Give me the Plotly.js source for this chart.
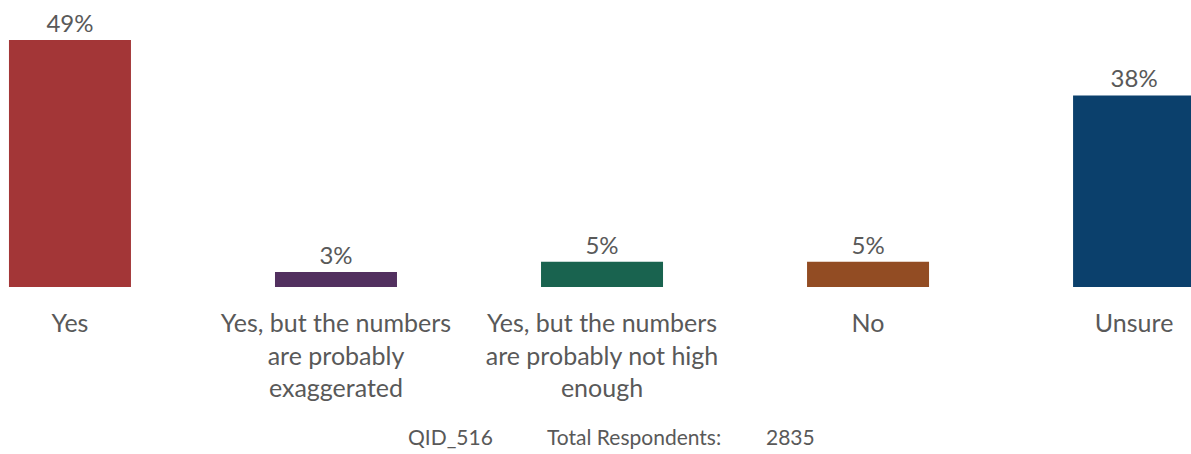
<!DOCTYPE html>
<html>
<head>
<meta charset="utf-8">
<script src="https://cdn.plot.ly/plotly-3.0.1.min.js"></script>
<style>html,body{margin:0;padding:0;background:#fff;}#chart{width:1191px;height:454px;}</style>
</head>
<body>
<div id="chart"></div>
<script>
var categories = ["Yes", "Yes, but the numbers<br>are probably<br>exaggerated", "Yes, but the numbers<br>are probably not high<br>enough", "No", "Unsure"];
var values = [49, 3, 5, 5, 38];
var valueLabels = ["49%", "3%", "5%", "5%", "38%"];
var barColors = ["#A33637", "#52305F", "#19634F", "#924C23", "#0B406C"];
var footerQid = "QID_516";
var footerLabel = "Total Respondents:";
var footerTotal = "2835";

var textGray = "#595959";
var fontFam = "Lato, 'Open Sans', sans-serif";

var trace = {
  type: "bar",
  x: [0, 1, 2, 3, 4],
  y: values,
  width: 0.4586,
  marker: {color: barColors, line: {width: 0}},
  text: valueLabels,
  textposition: "outside",
  textfont: {family: fontFam, size: 24, color: textGray},
  cliponaxis: false,
  hoverinfo: "skip"
};

var layout = {
  width: 1191,
  height: 454,
  margin: {l: 0, r: 0, t: 0, b: 167, pad: 0},
  paper_bgcolor: "#ffffff",
  plot_bgcolor: "#ffffff",
  showlegend: false,
  font: {family: fontFam, color: textGray},
  xaxis: {
    range: [-0.263, 4.214],
    tickmode: "array",
    tickvals: [0, 1, 2, 3, 4],
    ticktext: categories,
    tickfont: {family: fontFam, size: 25, color: textGray},
    ticks: "",
    ticklabelstandoff: 19,
    showgrid: false,
    zeroline: false,
    showline: false,
    fixedrange: true
  },
  yaxis: {
    range: [0, 56.93],
    visible: false,
    showgrid: false,
    zeroline: false,
    fixedrange: true
  },
  annotations: [
    {text: footerQid, xref: "paper", yref: "paper", x: 406 / 1191, y: -0.522, xanchor: "left", yanchor: "middle", showarrow: false, font: {family: fontFam, size: 21, color: textGray}},
    {text: footerLabel, xref: "paper", yref: "paper", x: 545 / 1191, y: -0.522, xanchor: "left", yanchor: "middle", showarrow: false, font: {family: fontFam, size: 21, color: textGray}},
    {text: footerTotal, xref: "paper", yref: "paper", x: 764 / 1191, y: -0.522, xanchor: "left", yanchor: "middle", showarrow: false, font: {family: fontFam, size: 21, color: textGray}}
  ]
};

Plotly.newPlot("chart", [trace], layout, {displayModeBar: false, staticPlot: true});
</script>
</body>
</html>
